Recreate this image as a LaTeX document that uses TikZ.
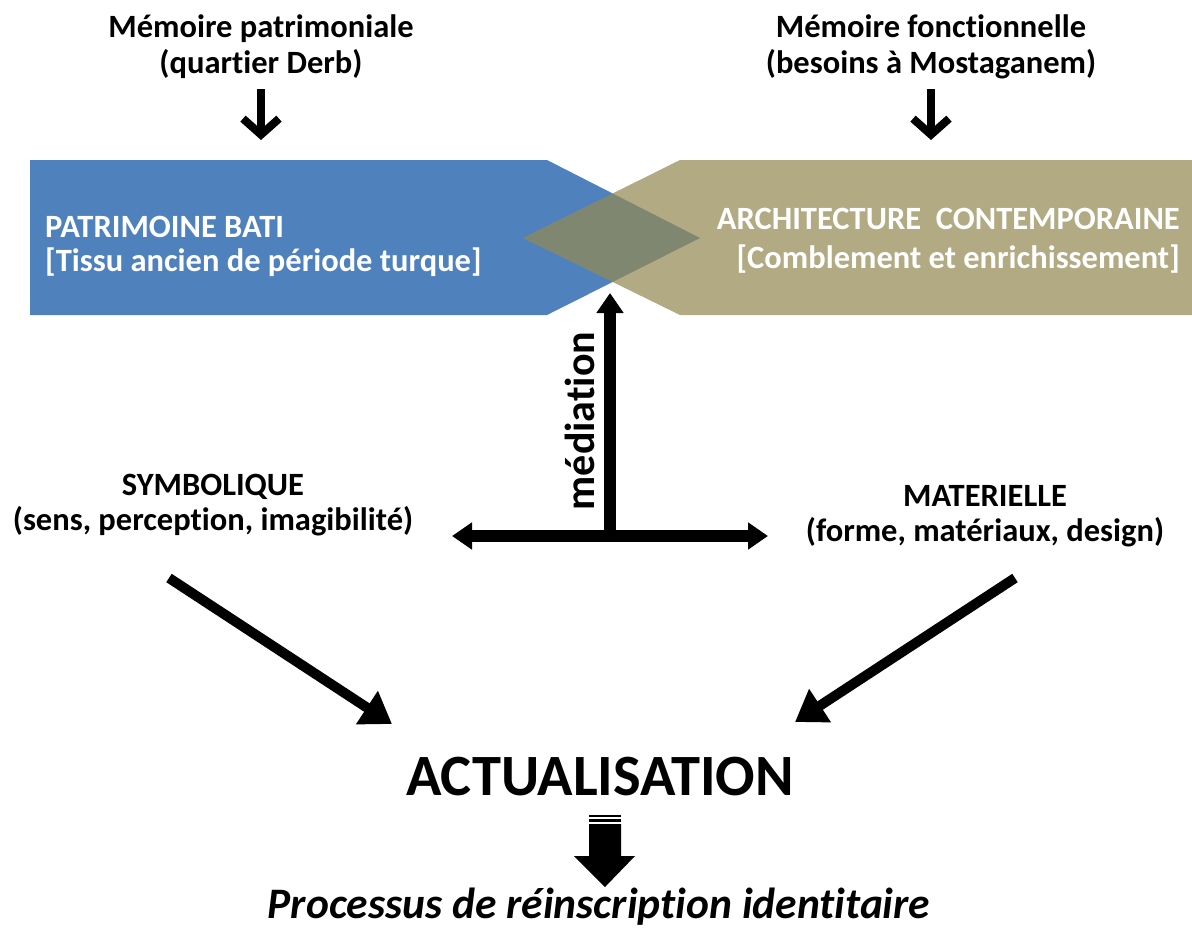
\documentclass[tikz,border=0pt]{standalone}
\usepackage{fontspec}
\setmainfont{Carlito}[Ligatures=NoCommon]
\usetikzlibrary{arrows.meta}
\definecolor{blueC}{HTML}{4F81BD}
\definecolor{tanC}{HTML}{948A54}
\begin{document}
\begin{tikzpicture}[x=1pt,y=-1pt,
  lbl/.style={font=\fontsize{32.5}{38}\selectfont\bfseries, anchor=base, inner sep=0pt, text=black},
  boxlbl/.style={font=\fontsize{32.5}{38}\selectfont\bfseries, anchor=base, inner sep=0pt, text=white},
  toparrow/.style={line width=8pt, -{Straight Barb[length=16pt,width=36pt]}},
  bigarrow/.style={line width=12pt, -{Triangle[length=20pt,width=26pt]}},
  dblarrow/.style={line width=12pt, {Triangle[length=20pt,width=26pt]}-{Triangle[length=20pt,width=26pt]}},
  diagarrow/.style={line width=10pt, -{Triangle[length=30pt,width=38pt]}},
]
\useasboundingbox (0,0) rectangle (1192,938);
\fill[white] (0,0) rectangle (1192,938);

% shapes
\fill[blueC] (30,160) -- (547,160) -- (700,238) -- (547,315) -- (30,315) -- cycle;
\fill[tanC, opacity=0.72] (680,160) -- (1192,160) -- (1192,315) -- (680,315) -- (523,238) -- cycle;

% top labels
\node[lbl] (mp1) at (261,37) {Mémoire patrimoniale};
\node[lbl] (mp2) at (261,73) {(quartier Derb)};
\node[lbl] (mf1) at (931,37) {Mémoire fonctionnelle};
\node[lbl] (mf2) at (931,73) {(besoins à Mostaganem)};

\coordinate (a1s) at (261,89);
\coordinate (a1e) at (261,140);
\coordinate (a2s) at (931,89);
\coordinate (a2e) at (931,140);
\draw[toparrow] (a1s) -- (a1e);
\draw[toparrow] (a2s) -- (a2e);

% box labels
\node[boxlbl, anchor=base west] (pb1) at (45,237) {PATRIMOINE BATI};
\node[boxlbl, anchor=base west] (pb2) at (45,271) {[Tissu ancien de période turque]};
\node[boxlbl, anchor=base east] (ac1) at (1180,229) {ARCHITECTURE\ \ CONTEMPORAINE};
\node[boxlbl, anchor=base east] (ac2) at (1180,268) {[Comblement et enrichissement]};

% mediation
\coordinate (hl) at (452,536);
\coordinate (hr) at (768,536);
\coordinate (hm) at (610,536);
\coordinate (top) at (610,293);
\draw[dblarrow] (hl) -- (hr);
\draw[bigarrow] (hm) -- (top);
\node[font=\fontsize{42}{48}\selectfont\bfseries, rotate=90, inner sep=0pt] (med) at (580,421) {médiation};

% middle labels
\node[lbl] (s1) at (213,495) {SYMBOLIQUE};
\node[lbl] (s2) at (213,530) {(sens, perception, imagibilité)};
\node[lbl] (m1) at (985,506) {MATERIELLE};
\node[lbl] (m2) at (985,541) {(forme, matériaux, design)};

% diagonal arrows
\coordinate (dl1) at (169,578);
\coordinate (dl2) at (392,724);
\coordinate (dr1) at (1015,578);
\coordinate (dr2) at (795,722);
\draw[diagarrow] (dl1) -- (dl2);
\draw[diagarrow] (dr1) -- (dr2);

% actualisation
\node[font=\fontsize{58.5}{62}\selectfont\bfseries, anchor=base, inner sep=0pt] (act) at (600,795) {ACTUALISATION};

% block arrow
\fill[black] (589,815) rectangle (621,817);
\fill[black] (589,819) rectangle (621,822);
\fill[black] (589,824) -- (621,824) -- (621,856) -- (635,856) -- (605,887) -- (574,856) -- (589,856) -- cycle;

\node[font=\fontsize{43.5}{46}\selectfont\bfseries\itshape, anchor=base, inner sep=0pt] (proc) at (599,918) {Processus de réinscription identitaire};
\end{tikzpicture}
\end{document}
